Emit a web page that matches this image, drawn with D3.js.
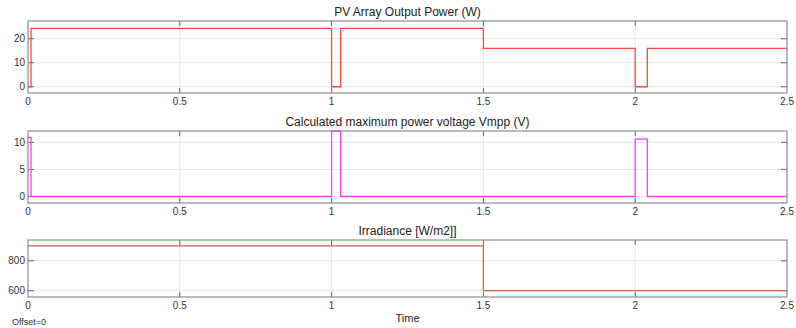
<!DOCTYPE html>
<html>
<head>
<meta charset="utf-8">
<script src="https://cdn.jsdelivr.net/npm/d3@7"></script>
<style>
  body { margin: 0; background: #fff; }
  text { font-family: 'Liberation Sans', Arial, sans-serif; }
</style>
</head>
<body>
<div id="app"></div>
<script>
// step signals: value holds from each time until the next one
const powerTimes = [0, 0.01, 1.0, 1.03, 1.5, 2.0, 2.04, 2.5];
const powerValues = [0, 24.3, 0, 24.3, 16, 0, 16, 16];

const vmppTimes = [0, 0.01, 1.0, 1.03, 2.0, 2.04, 2.5];
const vmppValues = [10.9, 0, 12.1, 0, 10.6, 0, 0];

const irrTimes = [0, 1.5, 2.5];
const irrValues = [900, 600, 600];

const xTicks = [0, 0.5, 1, 1.5, 2, 2.5];

const panels = [
  { title: 'PV Array Output Power (W)', times: powerTimes, values: powerValues,
    domain: [-2.6, 27.4], ticks: [0, 10, 20], color: '#ff4545', top: 21, bottom: 93 },
  { title: 'Calculated maximum power voltage Vmpp (V)', times: vmppTimes, values: vmppValues,
    domain: [-1.2, 12.1], ticks: [0, 5, 10], color: '#ff3cff', top: 131, bottom: 203 },
  { title: 'Irradiance [W/m2]]', times: irrTimes, values: irrValues,
    domain: [558, 939], ticks: [600, 800], color: '#c9693f', top: 240, bottom: 297 }
];

const W = 796, H = 328;
const left = 28, right = 787;

const svg = d3.select('#app')
  .append('svg')
  .attr('width', W)
  .attr('height', H);

const x = d3.scaleLinear().domain([0, 2.5]).range([left, right]);

panels.forEach((p) => {
  const y = d3.scaleLinear().domain(p.domain).range([p.bottom, p.top]);
  const g = svg.append('g');

  // grid
  g.selectAll('.vgrid')
    .data(xTicks.slice(1, -1))
    .enter()
    .append('line')
    .attr('x1', (d) => x(d)).attr('x2', (d) => x(d))
    .attr('y1', p.top).attr('y2', p.bottom)
    .attr('stroke', '#e6e6e6');

  g.selectAll('.hgrid')
    .data(p.ticks)
    .enter()
    .append('line')
    .attr('x1', left).attr('x2', right)
    .attr('y1', (d) => y(d)).attr('y2', (d) => y(d))
    .attr('stroke', '#e6e6e6');

  // tick marks inside the box
  const tickColor = '#666';
  xTicks.slice(1, -1).forEach((t) => {
    g.append('line').attr('x1', x(t)).attr('x2', x(t))
      .attr('y1', p.bottom).attr('y2', p.bottom - 5).attr('stroke', tickColor);
    g.append('line').attr('x1', x(t)).attr('x2', x(t))
      .attr('y1', p.top).attr('y2', p.top + 5).attr('stroke', tickColor);
  });
  p.ticks.forEach((t) => {
    g.append('line').attr('x1', left).attr('x2', left + 6)
      .attr('y1', y(t)).attr('y2', y(t)).attr('stroke', tickColor);
    g.append('line').attr('x1', right).attr('x2', right - 6)
      .attr('y1', y(t)).attr('y2', y(t)).attr('stroke', tickColor);
  });

  // signal
  const pts = p.times.map((t, i) => [t, p.values[i]]);
  const line = d3.line()
    .x((d) => x(d[0]))
    .y((d) => y(d[1]))
    .curve(d3.curveStepAfter);

  g.append('clipPath').attr('id', 'clip' + p.top)
    .append('rect').attr('x', left).attr('y', p.top - 1)
    .attr('width', right - left).attr('height', p.bottom - p.top + 2);

  g.append('path')
    .datum(pts)
    .attr('d', line)
    .attr('fill', 'none')
    .attr('stroke', p.color)
    .attr('stroke-width', 1.3)
    .attr('clip-path', `url(#clip${p.top})`);

  // box
  g.append('rect')
    .attr('x', left).attr('y', p.top)
    .attr('width', right - left).attr('height', p.bottom - p.top)
    .attr('fill', 'none')
    .attr('stroke', '#8c8c8c')
    .attr('stroke-width', 1.2);

  // labels
  g.selectAll('.ylab')
    .data(p.ticks)
    .enter()
    .append('text')
    .attr('x', left - 3)
    .attr('y', (d) => y(d))
    .attr('dy', '0.35em')
    .attr('text-anchor', 'end')
    .attr('font-size', 10)
    .attr('fill', '#333')
    .text((d) => d);

  g.selectAll('.xlab')
    .data(xTicks)
    .enter()
    .append('text')
    .attr('x', (d) => x(d))
    .attr('y', p.bottom + 12)
    .attr('text-anchor', 'middle')
    .attr('font-size', 10)
    .attr('fill', '#333')
    .text((d) => d);

  g.append('text')
    .attr('x', (left + right) / 2)
    .attr('y', p.top - 5)
    .attr('text-anchor', 'middle')
    .attr('font-size', 12)
    .attr('fill', '#222')
    .text(p.title);
});

svg.append('text')
  .attr('x', (left + right) / 2)
  .attr('y', 322)
  .attr('text-anchor', 'middle')
  .attr('font-size', 11)
  .attr('fill', '#222')
  .text('Time');

svg.append('text')
  .attr('x', 12)
  .attr('y', 325)
  .attr('font-size', 9)
  .attr('fill', '#333')
  .text('Offset=0');
</script>
</body>
</html>
